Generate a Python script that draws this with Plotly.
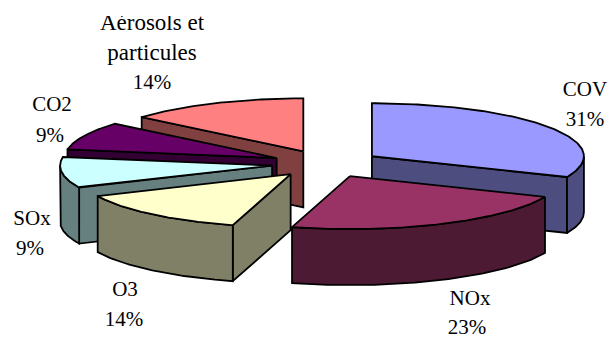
import numpy as np
import plotly.graph_objects as go

categories = ["COV", "NOx", "O3", "SOx", "CO2", "Aérosols et particules"]
values = [31.4, 23.0, 13.8, 9.4, 8.6, 13.8]
top_colors = ["#9999ff", "#993366", "#ffffcc", "#ccffff", "#660066", "#ff8080"]
wall_colors = ["#4d4d80", "#4d1a33", "#808066", "#668080", "#330033", "#804040"]

# projection of the 3D pie
CX, CY, RX, RY, DEPTH, EXPLODE = 326.3, 163.8, 212.0, 53.0, 56.0, 0.258
DRAW_ORDER = [5, 4, 3, 0, 2, 1]
LABEL_POS = [[(585, 91), (585, 121)], [(470, 300), (467, 329)], [(125, 291), (124, 321)],
             [(32, 220), (30, 250)], [(52, 106), (50, 137)],
             [(152, 24), (152, 54), (152, 84)]]
LABEL_LINES = [["COV"], ["NOx"], ["O3"], ["SOx"], ["CO2"], ["Aérosols et", "particules"]]

total = sum(values)
edges = np.concatenate([[0], np.cumsum(values)]) / total * 360.0


def pt(theta, ax, ay, dz=0.0):
    t = np.radians(theta)
    return ax + RX * np.sin(t), ay - RY * np.cos(t) + dz


def poly(fig, xs, ys, color):
    xs, ys = list(xs), list(ys)
    fig.add_trace(go.Scatter(x=xs + xs[:1], y=ys + ys[:1], mode="lines", fill="toself",
                             fillcolor=color, line=dict(color="black", width=1.8),
                             hoverinfo="skip", showlegend=False))


fig = go.Figure()
for i in DRAW_ORDER:
    ts, te = edges[i], edges[i + 1]
    mid = np.radians((ts + te) / 2)
    ax = CX + EXPLODE * RX * np.sin(mid)
    ay = CY - EXPLODE * RY * np.cos(mid)
    wall = wall_colors[i]
    for th, visible in ((ts, np.sin(np.radians(ts)) < -1e-6), (te, np.sin(np.radians(te)) > 1e-6)):
        if visible:
            px, py = pt(th, ax, ay)
            poly(fig, [ax, px, px, ax], [ay, py, py + DEPTH, ay + DEPTH], wall)
    a0, a1 = max(ts, 90), min(te, 270)
    if a1 > a0:
        arc = np.linspace(a0, a1, 60)
        px, py = pt(arc, ax, ay)
        poly(fig, np.r_[px, px[::-1]], np.r_[py, (py + DEPTH)[::-1]], wall)
    arc = np.linspace(ts, te, 120)
    px, py = pt(arc, ax, ay)
    poly(fig, np.r_[ax, px], np.r_[ay, py], top_colors[i])

for i, pos in enumerate(LABEL_POS):
    texts = LABEL_LINES[i] + [f"{round(values[i] / total * 100)}%"]
    sizes = [23 if len(t) > 5 else 21 for t in texts]
    fig.add_trace(go.Scatter(x=[p[0] for p in pos], y=[p[1] for p in pos], mode="text", text=texts,
                             textposition="middle center",
                             textfont=dict(family="Liberation Serif", size=sizes, color="black"),
                             hoverinfo="skip", showlegend=False))

# the reference cuts the top of the first label line
fig.add_trace(go.Scatter(x=[0, 611, 611, 0, 0], y=[0, 0, 16, 16, 0], mode="lines", fill="toself",
                         fillcolor="white", line=dict(color="white", width=0),
                         hoverinfo="skip", showlegend=False))

fig.update_layout(width=611, height=338, margin=dict(l=0, r=0, t=0, b=0),
                  paper_bgcolor="white", plot_bgcolor="white", showlegend=False,
                  xaxis=dict(range=[0, 611], visible=False, fixedrange=True),
                  yaxis=dict(range=[338, 0], visible=False, fixedrange=True))
fig.write_html("out.html", config={"displayModeBar": False},
               post_script="document.body.style.margin='0';document.documentElement.style.overflow='hidden';")
